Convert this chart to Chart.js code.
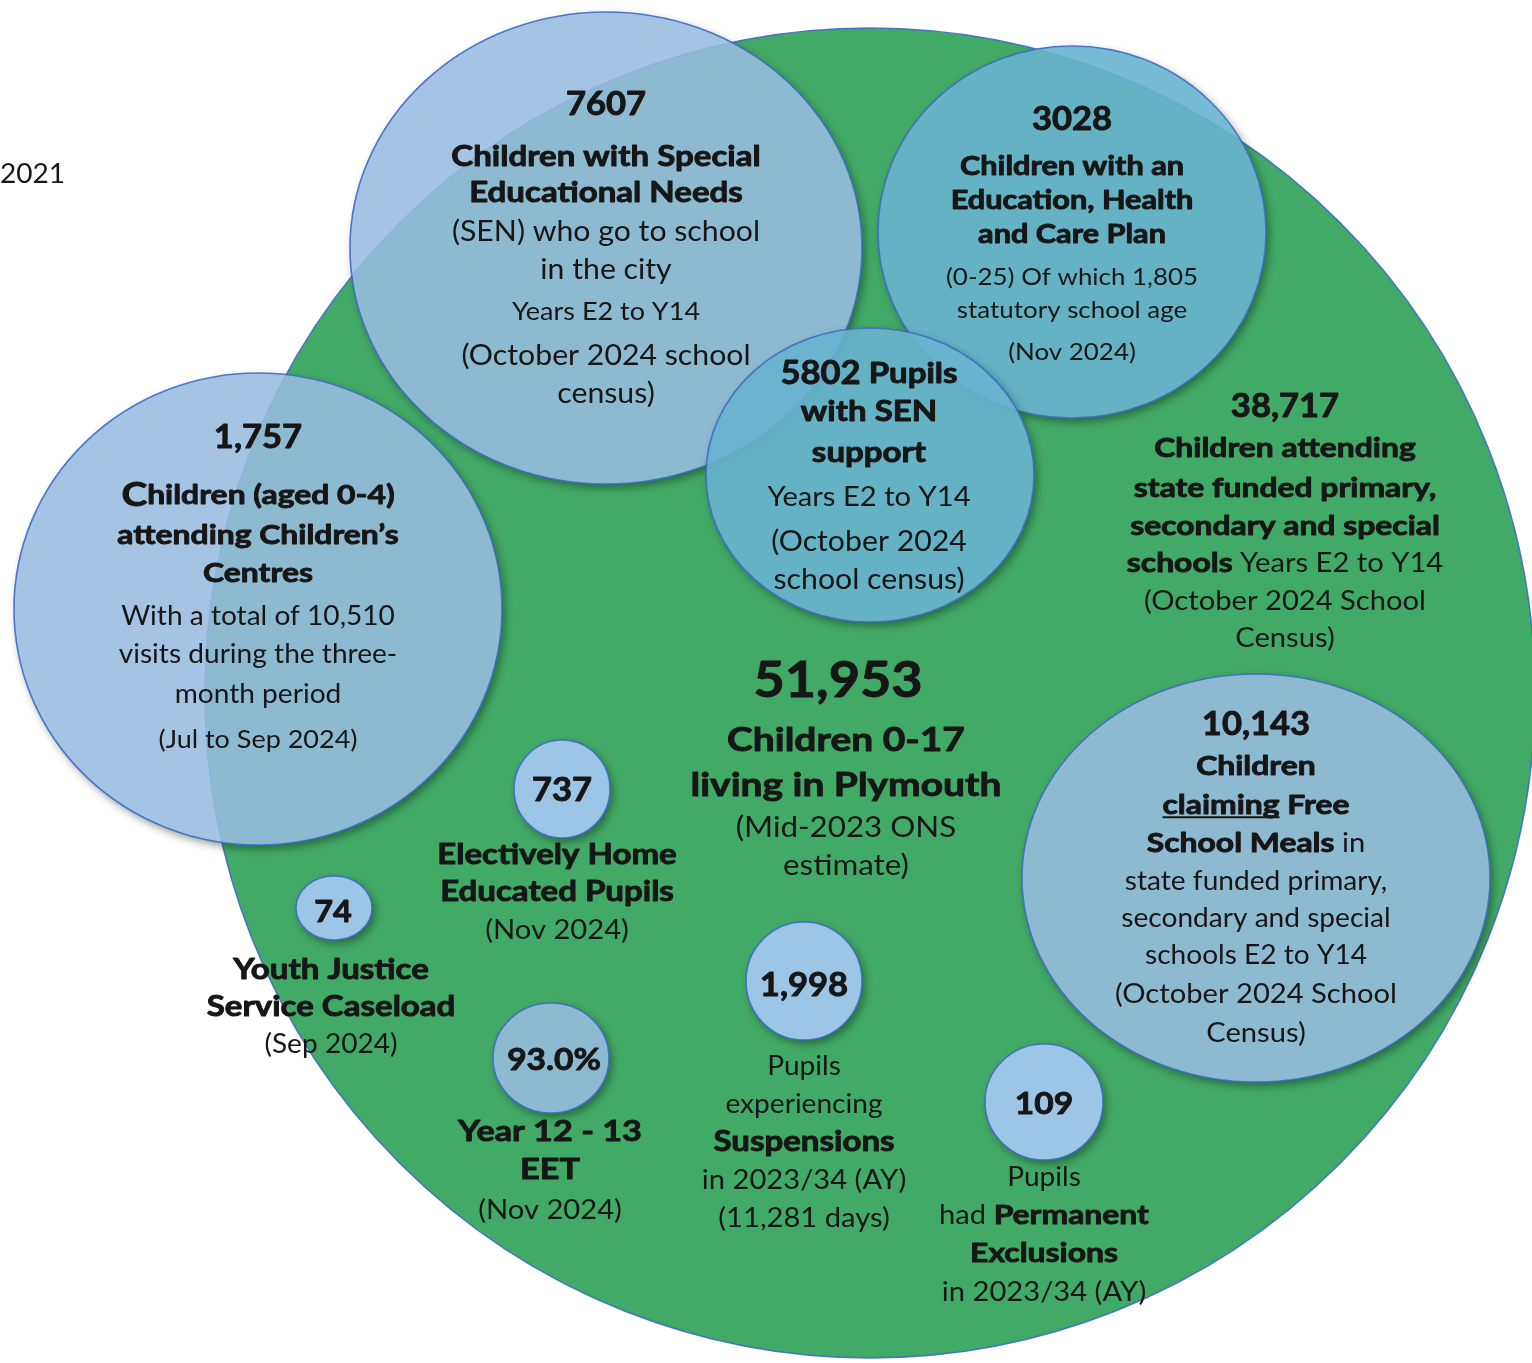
<!DOCTYPE html>
<html>
<head>
<meta charset="utf-8">
<script src="https://cdn.jsdelivr.net/npm/chart.js@4"></script>
<style>
  html, body { margin: 0; padding: 0; background: #fff; }
  #wrap { width: 1532px; height: 1363px; position: relative; }
</style>
</head>
<body>
<div id="wrap"><canvas id="bubbles"></canvas></div>
<script>
// data
const labels = [
  "Children 0-17 living in Plymouth",
  "Children with Special Educational Needs",
  "Children (aged 0-4) attending Children's Centres",
  "Children with an Education, Health and Care Plan",
  "Pupils with SEN support",
  "Children claiming Free School Meals",
  "Electively Home Educated Pupils",
  "Youth Justice Service Caseload",
  "Year 12 - 13 EET",
  "Pupils experiencing Suspensions",
  "Pupils had Permanent Exclusions",
  "Children attending state funded schools"
];
const values = [51953, 7607, 1757, 3028, 5802, 10143, 737, 74, 93.0, 1998, 109, 38717];
const valueText = ["51,953", "7607", "1,757", "3028", "5802", "10,143", "737", "74", "93.0%", "1,998", "109", "38,717"];

// layout of the bubbles (centre and radii in canvas units), kept apart from the data
const bubbleX  = [870, 606, 258, 1072, 870, 1256, 562, 334, 551, 804, 1044];
const bubbleY  = [693, 248, 609, 232, 475, 878, 789, 908, 1058, 981, 1102];
const bubbleRX = [665, 256, 244, 194, 164, 234, 48, 38, 58, 58, 59];
const bubbleRY = [665, 236, 236, 186, 147, 204, 49, 32, 55, 59, 58];

const GREEN = "rgb(66,170,103)";
const PALE = "rgba(152,188,224,0.88)";
const TEAL = "rgba(104,179,206,0.9)";
const LIGHT = "rgba(160,198,233,0.97)";
const fills = [GREEN, PALE, PALE, TEAL, TEAL, PALE, LIGHT, LIGHT, PALE, LIGHT, LIGHT];

const FONT = "Lato, 'Open Sans', sans-serif";
const INK = "#161616";
// Gill Sans is wider than Lato: stretch each style a little
const STRETCH = { b: 1.18, r: 1.08, n: 1.08 };

// text blocks: [y, size, runs, x?]; run = [text, style, size?]; "$v" = value of item v
const blocks = [
  { v: 1, x: 606, lines: [
    [105, 32, [["$v", "n"]]],
    [157, 28, [["Children with Special", "b"]]],
    [193, 28, [["Educational Needs", "b"]]],
    [232, 28, [["(SEN) who go to school", "r"]]],
    [270, 28, [["in the city", "r"]]],
    [312, 25, [["Years E2 to Y14", "r"]]],
    [356, 28, [["(October 2024 school", "r"]]],
    [394, 28, [["census)", "r"]]]
  ]},
  { v: 3, x: 1072, lines: [
    [120, 32, [["$v", "n"]]],
    [167, 26, [["Children with an", "b"]]],
    [201, 26, [["Education, Health", "b"]]],
    [235, 26, [["and Care Plan", "b"]]],
    [277, 24, [["(0-25) Of which 1,805", "r"]]],
    [310, 24, [["statutory school age", "r"]]],
    [352, 24, [["(Nov 2024)", "r"]]]
  ]},
  { v: 4, x: 869, lines: [
    [374, 28, [["$v", "n", 32], [" Pupils", "b"]]],
    [412, 28, [["with SEN", "b"]]],
    [453, 28, [["support", "b"]]],
    [497, 27, [["Years E2 to Y14", "r"]]],
    [542, 28, [["(October 2024", "r"]]],
    [580, 28, [["school census)", "r"]]]
  ]},
  { v: 11, x: 1285, lines: [
    [407, 32, [["$v", "n"]]],
    [448, 27, [["Children attending", "b"]]],
    [488, 27, [["state funded primary,", "b"]]],
    [526, 27, [["secondary and special", "b"]]],
    [563, 27, [["schools", "b"], [" Years E2 to Y14", "r"]]],
    [601, 27, [["(October 2024 School", "r"]]],
    [638, 27, [["Census)", "r"]]]
  ]},
  { v: 2, x: 258, lines: [
    [438, 32, [["$v", "n"]]],
    [495, 27, [["C", "b", 33], ["hildren (aged 0-4)", "b"]]],
    [535, 27, [["attending Children\u2019s", "b"]]],
    [573, 27, [["Centres", "b"]]],
    [617, 26, [["With a total of 10,510", "r"]]],
    [655, 26, [["visits during the three-", "r"]]],
    [695, 26, [["month period", "r"]]],
    [740, 25, [["(Jul to Sep 2024)", "r"]]]
  ]},
  { v: 0, x: 846, lines: [
    [681, 50, [["$v", "n"]], 838],
    [740, 33, [["Children 0-17", "b"]]],
    [785, 33, [["living in Plymouth", "b"]]],
    [828, 29, [["(Mid-2023 ONS", "r"]]],
    [866, 29, [["estimate)", "r"]]]
  ]},
  { v: 5, x: 1256, lines: [
    [725, 32, [["$v", "n"]]],
    [766, 27, [["Children", "b"]]],
    [805, 27, [["claiming", "bu"], [" Free", "b"]]],
    [843, 27, [["School Meals", "b"], [" in", "r"]]],
    [882, 26, [["state funded primary,", "r"]]],
    [919, 26, [["secondary and special", "r"]]],
    [956, 26, [["schools E2 to Y14", "r"]]],
    [994, 27, [["(October 2024 School", "r"]]],
    [1033, 27, [["Census)", "r"]]]
  ]},
  { v: 6, x: 557, lines: [
    [791, 32, [["$v", "n"]], 562],
    [855, 28, [["Electively Home", "b"]]],
    [892, 28, [["Educated Pupils", "b"]]],
    [930, 27, [["(Nov 2024)", "r"]]]
  ]},
  { v: 7, x: 331, lines: [
    [912, 30, [["$v", "n"]], 333],
    [970, 28, [["Youth Justice", "b"]]],
    [1007, 28, [["Service Caseload", "b"]]],
    [1045, 26, [["(Sep 2024)", "r"]]]
  ]},
  { v: 8, x: 550, lines: [
    [1060, 31, [["$v", "n"]], 554],
    [1132, 29, [["Year 12 - 13", "b"]]],
    [1170, 29, [["EET", "b"]]],
    [1210, 27, [["(Nov 2024)", "r"]]]
  ]},
  { v: 9, x: 804, lines: [
    [986, 32, [["$v", "n"]]],
    [1067, 26, [["Pupils", "r"]]],
    [1105, 26, [["experiencing", "r"]]],
    [1142, 28, [["Suspensions", "b"]]],
    [1180, 27, [["in 2023/34 (AY)", "r"]]],
    [1218, 27, [["(11,281 days)", "r"]]]
  ]},
  { v: 10, x: 1044, lines: [
    [1104, 31, [["$v", "n"]]],
    [1178, 26, [["Pupils", "r"]]],
    [1215, 27, [["had ", "r"], ["Permanent", "b"]]],
    [1253, 27, [["Exclusions", "b"]]],
    [1292, 27, [["in 2023/34 (AY)", "r"]]]
  ]}
];

const W = 1532, H = 1363;

function runFont(style, size) {
  return (style[0] === "r" ? "400 " : "700 ") + size + "px " + FONT;
}

const ellipsePlugin = {
  id: "ellipses",
  beforeDatasetDraw(chart, args) {
    const ctx = chart.ctx;
    const xs = chart.scales.x, ys = chart.scales.y;
    args.meta.data.forEach((el, i) => {
      const raw = chart.data.datasets[0].data[i];
      const rx = Math.abs(xs.getPixelForValue(raw.x + raw.rx) - el.x);
      const ry = Math.abs(ys.getPixelForValue(raw.y + raw.ry) - el.y);
      // soft drop shadow, kept outside the shape
      if (i > 0) {
        ctx.save();
        ctx.beginPath();
        ctx.rect(0, 0, chart.width, chart.height);
        ctx.ellipse(el.x, el.y, rx, ry, 0, 0, Math.PI * 2);
        ctx.clip("evenodd");
        ctx.shadowColor = "rgba(0,30,10,0.45)";
        ctx.shadowBlur = 9;
        ctx.shadowOffsetX = 10000 + 3;
        ctx.shadowOffsetY = 4;
        ctx.beginPath();
        ctx.ellipse(el.x - 10000, el.y, rx, ry, 0, 0, Math.PI * 2);
        ctx.fillStyle = "#000";
        ctx.fill();
        ctx.restore();
      }
      ctx.save();
      ctx.beginPath();
      ctx.ellipse(el.x, el.y, rx, ry, 0, 0, Math.PI * 2);
      ctx.fillStyle = fills[i];
      ctx.fill();
      ctx.lineWidth = 1.6;
      ctx.strokeStyle = "rgba(62,108,196,0.9)";
      ctx.stroke();
      ctx.restore();
    });
    return false;
  },
  afterDatasetsDraw(chart) {
    const ctx = chart.ctx;
    const xs = chart.scales.x, ys = chart.scales.y;
    ctx.save();
    ctx.fillStyle = INK;
    ctx.strokeStyle = INK;
    ctx.lineJoin = "round";
    ctx.textBaseline = "middle";
    ctx.textAlign = "left";

    ctx.font = "400 26px " + FONT;
    ctx.save();
    ctx.translate(xs.getPixelForValue(0), ys.getPixelForValue(175));
    ctx.scale(STRETCH.r, 1);
    ctx.fillText("2021", 0, 0);
    ctx.restore();

    blocks.forEach(b => {
      b.lines.forEach(line => {
        const [y, size, runs, lx] = line;
        const parts = runs.map(r => {
          const t = r[0] === "$v" ? valueText[b.v] : r[0];
          const s = r[2] || size;
          const sx = STRETCH[r[1][0]];
          ctx.font = runFont(r[1], s);
          return { t, f: ctx.font, sx, heavy: r[1][0] !== "r",
                   u: r[1].indexOf("u") >= 0, w: ctx.measureText(t).width * sx, s };
        });
        const total = parts.reduce((a, p) => a + p.w, 0);
        let px = xs.getPixelForValue(lx !== undefined ? lx : b.x) - total / 2;
        const py = ys.getPixelForValue(y);
        parts.forEach(p => {
          ctx.font = p.f;
          ctx.save();
          ctx.translate(px, py);
          ctx.scale(p.sx, 1);
          ctx.fillText(p.t, 0, 0);
          if (p.heavy) {
            // Gill Sans bold is much heavier than Lato bold
            ctx.lineWidth = 0.9;
            ctx.strokeText(p.t, 0, 0);
          }
          ctx.restore();
          if (p.u) {
            ctx.lineWidth = 2;
            ctx.beginPath();
            ctx.moveTo(px, py + p.s * 0.45);
            ctx.lineTo(px + p.w, py + p.s * 0.45);
            ctx.stroke();
          }
          px += p.w;
        });
      });
    });
    ctx.restore();
  }
};

// r is 0 so the bubble controller adds no padding; the drawn size comes from rx / ry
const points = bubbleX.map((x, i) => ({
  x, y: bubbleY[i], r: 0, rx: bubbleRX[i], ry: bubbleRY[i],
  label: labels[i], value: values[i]
}));

new Chart(document.getElementById("bubbles"), {
  type: "bubble",
  data: {
    datasets: [{
      label: "Children and young people in Plymouth",
      data: points,
      backgroundColor: fills,
      borderWidth: 0
    }]
  },
  options: {
    responsive: true,
    maintainAspectRatio: false,
    animation: false,
    layout: { padding: 0 },
    clip: false,
    scales: {
      x: { type: "linear", min: 0, max: W, display: false },
      y: { type: "linear", min: 0, max: H, reverse: true, display: false }
    },
    plugins: {
      legend: { display: false },
      tooltip: { enabled: false }
    }
  },
  plugins: [ellipsePlugin]
});
</script>
</body>
</html>
